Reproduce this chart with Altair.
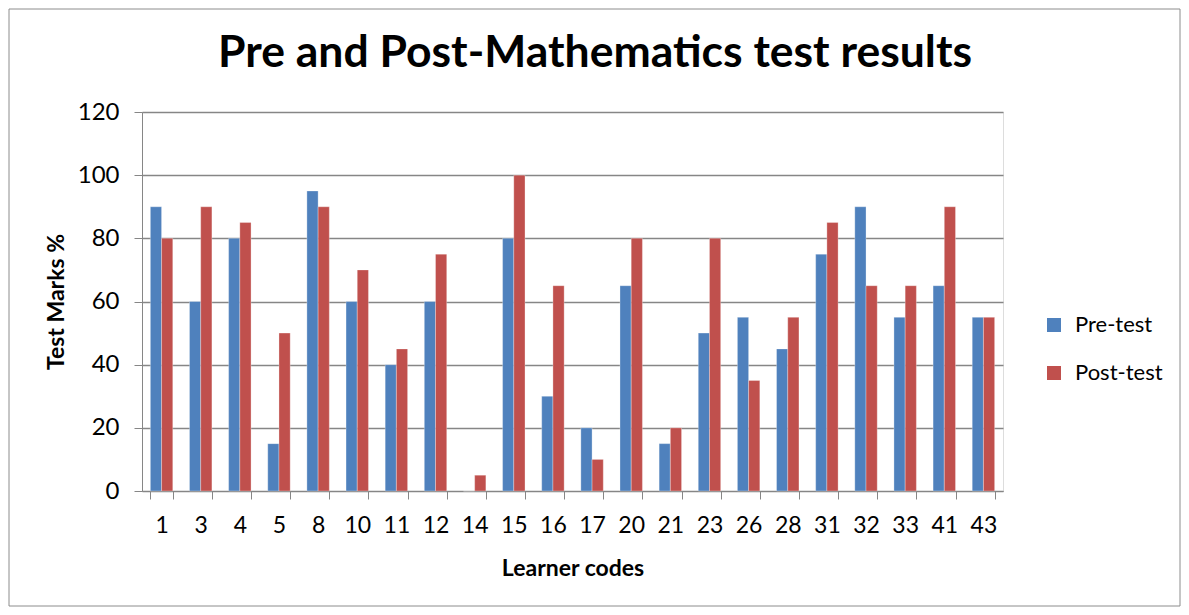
import altair as alt
import pandas as pd

codes = ["1", "3", "4", "5", "8", "10", "11", "12", "14", "15", "16", "17", "20", "21", "23", "26", "28", "31", "32", "33", "41", "43"]
pre_test = [90, 60, 80, 15, 95, 60, 40, 60, 0, 80, 30, 20, 65, 15, 50, 55, 45, 75, 90, 55, 65, 55]
post_test = [80, 90, 85, 50, 90, 70, 45, 75, 5, 100, 65, 10, 80, 20, 80, 35, 55, 85, 65, 65, 90, 55]
series = ["Pre-test", "Post-test"]
colors = ["#4F81BD", "#C0504D"]
title_text = ["Pre and Post-Mathematics test results"]

rows = []
for c, a, b in zip(codes, pre_test, post_test):
    rows.append({"code": c, "series": series[0], "value": a})
    rows.append({"code": c, "series": series[1], "value": b})
df = pd.DataFrame(rows)

FONT = "Lato"
W, H = 861, 379

bars = alt.Chart(df).mark_bar(stroke="white", strokeWidth=0.5, strokeOpacity=0.6).encode(
    x=alt.X("code:N", sort=codes,
            scale=alt.Scale(paddingInner=0.427, paddingOuter=0.2135),
            axis=alt.Axis(title="Learner codes", labelAngle=0, tickBand="extent",
                          domainColor="#868686", tickColor="#868686", tickSize=8,
                          labelFontSize=23, labelPadding=15, labelColor="#000000", labelFont=FONT,
                          titleFontSize=23, titleFont=FONT, titleFontWeight="bold", titlePadding=20,
                          titleColor="#000000", grid=False)),
    xOffset=alt.XOffset("series:N", sort=series, scale=alt.Scale(paddingInner=0, paddingOuter=0)),
    y=alt.Y("value:Q", scale=alt.Scale(domain=[0, 120]),
            axis=alt.Axis(title="Test Marks %", values=[0, 20, 40, 60, 80, 100, 120],
                          domainColor="#868686", tickColor="#868686", tickSize=8,
                          gridColor="#868686", gridWidth=1.3,
                          labelFontSize=24, labelPadding=15, labelColor="#000000", labelFont=FONT,
                          titleFontSize=23, titleFont=FONT, titleFontWeight="bold", titlePadding=9,
                          titleColor="#000000")),
    color=alt.Color("series:N", sort=series, scale=alt.Scale(domain=series, range=colors),
                    legend=alt.Legend(title=None, orient="none", legendX=901, legendY=202,
                                      symbolType="square", symbolSize=196, symbolStrokeWidth=0,
                                      labelFontSize=22, labelFont=FONT, labelColor="#000000",
                                      rowPadding=26, labelOffset=10)),
)

border = alt.Chart(pd.DataFrame({"k": [0]})).mark_rect(
    fill=None, stroke="#8c8c8c", strokeWidth=1, clip=False
).encode(x=alt.value(-133), x2=alt.value(1038), y=alt.value(-103), y2=alt.value(494))

title = alt.Chart(pd.DataFrame({"t": title_text})).mark_text(
    font=FONT, fontSize=44.5, fontWeight="bold", color="#000000",
    align="center", baseline="alphabetic", clip=False
).encode(text="t:N", x=alt.value(453), y=alt.value(-45))

chart = alt.layer(border, bars, title).properties(
    width=W, height=H,
    autosize=alt.AutoSizeParams(type="none"),
    padding={"left": 134, "top": 104, "right": 178, "bottom": 116},
).configure_view(stroke=None).configure(background="white")

chart.save("out.html", embed_options={"renderer": "svg", "actions": False})
